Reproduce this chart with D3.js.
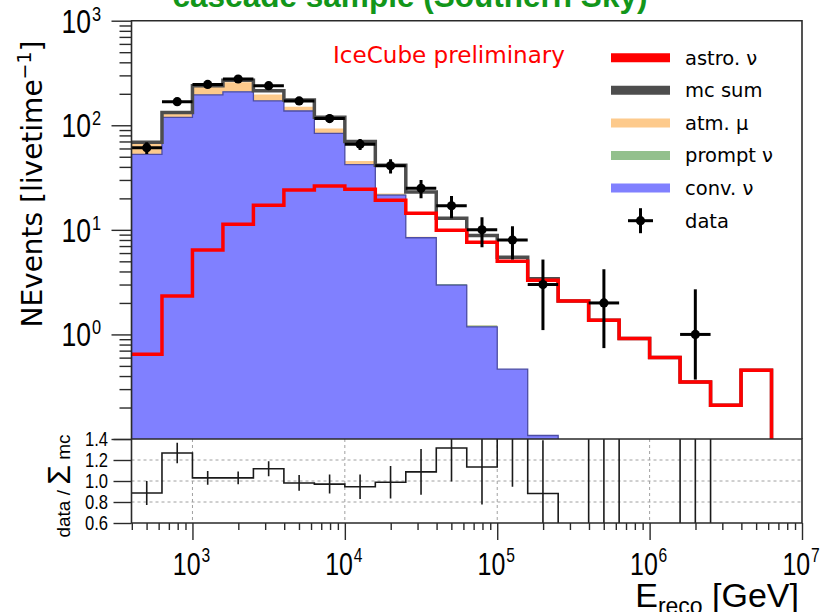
<!DOCTYPE html>
<html>
<head>
<meta charset="utf-8">
<script src="https://cdn.jsdelivr.net/npm/d3@7"></script>
<style>
  body { margin: 0; background: #fff; }
  svg { display: block; }
</style>
</head>
<body>
<svg id="chart" width="837" height="612"></svg>
<script>
// Reconstructed-energy bins: log10(E/GeV) edges, 0.2 decade wide
const binEdgesLog = [2.6, 2.8, 3.0, 3.2, 3.4, 3.6, 3.8, 4.0, 4.2, 4.4, 4.6, 4.8,
                     5.0, 5.2, 5.4, 5.6, 5.8, 6.0, 6.2, 6.4, 6.6, 6.8, 7.0];

// Expected events per bin for each component
const convNu   = [52.6, 119, 195, 209, 171, 137, 83.6, 42, 21.5, 8.4, 2.96, 1.18,
                  0.465, 0.108, 0, 0, 0, 0, 0, 0, 0, 0];
const promptNu = [0.3, 0.5, 0.7, 0.8, 0.8, 0.7, 0.6, 0.45, 0.3, 0.15, 0.08, 0.04,
                  0, 0, 0, 0, 0, 0, 0, 0, 0, 0];
const atmMu    = [15.3, 10.8, 36.9, 47.9, 25, 12.6, 9.1, 3, 0.5, 0.05, 0, 0,
                  0, 0, 0, 0, 0, 0, 0, 0, 0, 0];
const astroNu  = [0.645, 2.33, 6.4, 11.3, 17.2, 24.0, 26.2, 24.4, 19.2, 14.4, 9.9, 7.6,
                  5.0, 3.3, 2.09, 1.37, 0.914, 0.601, 0.351, 0.21, 0.454, 0];

// Observed events with their error-bar limits
const dataCounts = [61, 168, 246, 277, 239, 171, 116, 66, 41, 25, 17, 10,
                    8, 3, 0, 2, 0, 0, 1, 0, 0, 0];
const dataLow    = [53, 155, 230, 260, 224, 158, 105, 58, 34.6, 20, 12.9, 6.8,
                    5.2, 1.1, null, 0.74, null, null, 0.37, null, null, null];
const dataHigh   = [69, 181, 262, 294, 254, 184, 127, 74, 47.4, 30, 21.1, 13.2,
                    10.8, 5.2, null, 4.2, null, null, 2.7, null, null, null];

// Axis ticks and labels
const yMajorExps = [0, 1, 2, 3];
const xMajorExps = [3, 4, 5, 6, 7];
const ratioTicks = [0.6, 0.8, 1.0, 1.2, 1.4];
const ratioGrid  = [0.8, 1.0, 1.2];

const legendLabels = ["astro. \u03bd", "mc sum", "atm. \u03bc", "prompt \u03bd", "conv. \u03bd", "data"];
const legendColors = ["#ff0000", "#4d4d4d", "#fdca8c", "#93c08d", "#8080ff", "#000"];

const titleText = "cascade sample (Southern Sky)";
const stampText = "IceCube preliminary";

// ---- layout ----
const X0 = 131.5, X1 = 802, YT = 20.7, YB = 439, RB = 523;
const svg = d3.select("#chart");

const x = d3.scaleLog().domain([Math.pow(10, 2.6), 1e7]).range([X0, X1]);
const y = d3.scaleLog().domain([0.1, 1000]).range([YB, YT]);
const r = d3.scaleLinear().domain([0.6, 1.4]).range([RB, YB]);

const edgeE = i => Math.pow(10, binEdgesLog[i]);
const centerE = i => Math.pow(10, (binEdgesLog[i] + binEdgesLog[i + 1]) / 2);
const yv = v => (v > 0 ? y(v) : YB + 30);

const cumPrompt = convNu.map((c, i) => c + promptNu[i]);
const cumAtm = cumPrompt.map((c, i) => c + atmMu[i]);
const mcSum = cumAtm.map((c, i) => c + astroNu[i]);

// step outline of a histogram
function stepLine(vals, yf, fromBase, base) {
  let p = fromBase ? `M${x(edgeE(0))},${base}` : `M${x(edgeE(0))},${yf(vals[0])}`;
  vals.forEach((v, i) => {
    p += `V${yf(v)}H${x(edgeE(i + 1))}`;
  });
  return p;
}
function stepArea(vals, yf, base) {
  return stepLine(vals, yf, true, base) + `V${base}Z`;
}

const defs = svg.append("defs");
defs.append("clipPath").attr("id", "clipUpper")
  .append("rect").attr("x", X0).attr("y", YT).attr("width", X1 - X0).attr("height", YB - YT);
defs.append("clipPath").attr("id", "clipRatio")
  .append("rect").attr("x", X0).attr("y", YB).attr("width", X1 - X0).attr("height", RB - YB);

// ---- title (partly above the canvas) ----
svg.append("text")
  .attr("x", 410).attr("y", 7)
  .attr("text-anchor", "middle")
  .attr("font-family", "Liberation Sans, Arial, sans-serif")
  .attr("font-weight", "bold")
  .attr("font-size", 31.5)
  .attr("fill", "#12961a")
  .attr("textLength", 475).attr("lengthAdjust", "spacingAndGlyphs")
  .text(titleText);

// ---- upper panel: stacked backgrounds ----
const upper = svg.append("g").attr("clip-path", "url(#clipUpper)");
upper.append("path").attr("d", stepArea(cumAtm, yv, YB)).attr("fill", "#fdca8c");
upper.append("path").attr("d", stepArea(cumPrompt, yv, YB)).attr("fill", "#93c08d");
upper.append("path").attr("d", stepArea(convNu, yv, YB)).attr("fill", "#8080ff");
upper.append("path").attr("d", stepLine(convNu, yv, true, YB) + `V${YB}`)
  .attr("fill", "none").attr("stroke", "#4d4da6").attr("stroke-width", 1.3);

// mc sum and astrophysical component
upper.append("path").attr("d", stepLine(mcSum, yv, false, YB))
  .attr("fill", "none").attr("stroke", "#4d4d4d").attr("stroke-width", 3.5);
upper.append("path").attr("d", stepLine(astroNu, yv, false, YB))
  .attr("fill", "none").attr("stroke", "#ff0000").attr("stroke-width", 3.5);

// data points
const pts = upper.append("g");
dataCounts.forEach((n, i) => {
  if (!n) return;
  const cx = x(centerE(i)), cy = y(n);
  pts.append("line").attr("x1", x(edgeE(i))).attr("x2", x(edgeE(i + 1)))
    .attr("y1", cy).attr("y2", cy).attr("stroke", "#000").attr("stroke-width", 3);
  pts.append("line").attr("x1", cx).attr("x2", cx)
    .attr("y1", y(dataLow[i])).attr("y2", y(dataHigh[i]))
    .attr("stroke", "#000").attr("stroke-width", 3);
  pts.append("circle").attr("cx", cx).attr("cy", cy).attr("r", 4.6).attr("fill", "#000");
});

// ---- ratio panel ----
const ratioVals = dataCounts.map((n, i) => (mcSum[i] > 0 ? n / mcSum[i] : 0));
const ratioErr = dataCounts.map((n, i) => (mcSum[i] > 0 ? Math.sqrt(n) / mcSum[i] : 0));

const grid = svg.append("g").attr("stroke", "#a0a0a0").attr("stroke-width", 1)
  .attr("stroke-dasharray", "3,3");
ratioGrid.forEach(v => grid.append("line").attr("x1", X0).attr("x2", X1)
  .attr("y1", r(v)).attr("y2", r(v)));
xMajorExps.slice(0, 4).forEach(e => grid.append("line")
  .attr("x1", x(Math.pow(10, e))).attr("x2", x(Math.pow(10, e)))
  .attr("y1", YB).attr("y2", RB));

const rat = svg.append("g").attr("clip-path", "url(#clipRatio)");
const rv = v => r(Math.max(v, 0.2));
rat.append("path").attr("d", stepLine(ratioVals, rv, false, RB))
  .attr("fill", "none").attr("stroke", "#1a1a1a").attr("stroke-width", 1.6);
dataCounts.forEach((n, i) => {
  if (!n) return;
  const cx = x(centerE(i));
  rat.append("line").attr("x1", cx).attr("x2", cx)
    .attr("y1", rv(ratioVals[i] - ratioErr[i])).attr("y2", rv(ratioVals[i] + ratioErr[i]))
    .attr("stroke", "#1a1a1a").attr("stroke-width", 1.6);
});

// ---- frames ----
const frame = svg.append("g").attr("fill", "none").attr("stroke", "#2a2a2a").attr("stroke-width", 1.6);
frame.append("path").attr("d", `M${X0},${YB}V${YT}H${X1}V${YB}`);
frame.append("path").attr("d", `M${X0},${YB}V${RB}H${X1}V${YB}H${X0}`);

// ---- axes ----
const axisStyle = g => {
  g.select(".domain").remove();
  g.selectAll("line").attr("stroke", "#2a2a2a").attr("stroke-width", 1.4);
};

// upper y-axis ticks (log)
const yMinor = [];
for (let k = -1; k <= 2; k++) for (let m = 2; m <= 9; m++) yMinor.push(m * Math.pow(10, k));
const yMajor = [0.1, 1, 10, 100, 1000];
svg.append("g").attr("transform", `translate(${X0},0)`)
  .call(d3.axisLeft(y).tickValues(yMinor).tickSize(12).tickFormat("")).call(axisStyle);
svg.append("g").attr("transform", `translate(${X0},0)`)
  .call(d3.axisLeft(y).tickValues(yMajor).tickSize(20).tickFormat("")).call(axisStyle);

// ratio y-axis ticks
svg.append("g").attr("transform", `translate(${X0},0)`)
  .call(d3.axisLeft(r).tickValues(ratioTicks).tickSize(18).tickFormat("")).call(axisStyle);

// x-axis ticks below the ratio panel
const xMinor = [];
for (let k = 2; k <= 6; k++) for (let m = 2; m <= 9; m++) {
  const v = m * Math.pow(10, k);
  if (v >= x.domain()[0] && v <= 1e7) xMinor.push(v);
}
svg.append("g").attr("transform", `translate(0,${RB})`)
  .call(d3.axisBottom(x).tickValues(xMinor).tickSize(7).tickFormat("")).call(axisStyle);
svg.append("g").attr("transform", `translate(0,${RB})`)
  .call(d3.axisBottom(x).tickValues(xMajorExps.map(e => Math.pow(10, e))).tickSize(17).tickFormat(""))
  .call(axisStyle);

// power-of-ten labels in a narrow face
function powLabel(px, py, exp, size, supSize, supDy, anchor) {
  const g = svg.append("g").attr("transform", `translate(${px},${py}) scale(0.78,1)`);
  const t = g.append("text").attr("text-anchor", anchor)
    .attr("font-family", "Liberation Sans, Arial, sans-serif")
    .attr("font-size", size).attr("fill", "#000");
  t.append("tspan").text("10");
  t.append("tspan").attr("dx", 1).attr("dy", supDy).attr("font-size", supSize).text(exp);
}
yMajorExps.forEach(e => powLabel(101, y(Math.pow(10, e)) + 12, e, 34, 21, -12, "end"));
xMajorExps.forEach(e => powLabel(x(Math.pow(10, e)) - 1, 575, e, 32, 20, -13, "middle"));

// ratio tick labels
ratioTicks.forEach(v => {
  svg.append("g").attr("transform", `translate(108,${r(v) + 7}) scale(0.85,1)`)
    .append("text").attr("text-anchor", "end")
    .attr("font-family", "Liberation Sans, Arial, sans-serif")
    .attr("font-size", 19.5).attr("fill", "#000")
    .text(d3.format(".1f")(v));
});

// ---- axis titles ----
const yTitle = svg.append("text")
  .attr("transform", "translate(42,184) rotate(-90)")
  .attr("text-anchor", "middle")
  .attr("font-family", "DejaVu Sans, sans-serif")
  .attr("font-size", 28).attr("fill", "#000");
yTitle.append("tspan").text("NEvents [livetime");
yTitle.append("tspan").attr("font-size", 19).attr("dy", -11).text("\u22121");
yTitle.append("tspan").attr("dy", 11).text("]");

const rTitle = svg.append("text")
  .attr("transform", "translate(70,486) rotate(-90)")
  .attr("text-anchor", "middle")
  .attr("font-family", "Liberation Sans, Arial, sans-serif")
  .attr("font-size", 19).attr("fill", "#000");
rTitle.append("tspan").text("data / ");
rTitle.append("tspan").attr("font-size", 32).text("\u03a3");
rTitle.append("tspan").text(" mc");

const xTitle = svg.append("text")
  .attr("x", 799).attr("y", 607)
  .attr("text-anchor", "end")
  .attr("font-family", "Liberation Sans, Arial, sans-serif")
  .attr("font-size", 34).attr("fill", "#000");
xTitle.append("tspan").text("E");
xTitle.append("tspan").attr("font-size", 23).attr("dy", 7).text("reco");
xTitle.append("tspan").attr("dy", -7).text(" [GeV]");

// ---- stamp ----
svg.append("text")
  .attr("x", 333).attr("y", 63)
  .attr("font-family", "DejaVu Sans, sans-serif")
  .attr("font-size", 23).attr("fill", "#ff0000")
  .attr("textLength", 232).attr("lengthAdjust", "spacingAndGlyphs")
  .text(stampText);

// ---- legend ----
const leg = svg.append("g");
legendLabels.forEach((lab, i) => {
  const ly = 57.7 + i * 32.6;
  if (i < 5) {
    leg.append("line").attr("x1", 611).attr("x2", 670).attr("y1", ly).attr("y2", ly)
      .attr("stroke", legendColors[i]).attr("stroke-width", 9);
  } else {
    leg.append("line").attr("x1", 628).attr("x2", 653).attr("y1", ly).attr("y2", ly)
      .attr("stroke", "#000").attr("stroke-width", 3);
    leg.append("line").attr("x1", 640.5).attr("x2", 640.5).attr("y1", ly - 12.5).attr("y2", ly + 12.5)
      .attr("stroke", "#000").attr("stroke-width", 3);
    leg.append("circle").attr("cx", 640.5).attr("cy", ly).attr("r", 4.6).attr("fill", "#000");
  }
  leg.append("text").attr("x", 685).attr("y", ly).attr("dy", "0.35em")
    .attr("font-family", "DejaVu Sans, sans-serif")
    .attr("font-size", 19.5).attr("fill", "#000")
    .text(lab);
});
</script>
</body>
</html>
